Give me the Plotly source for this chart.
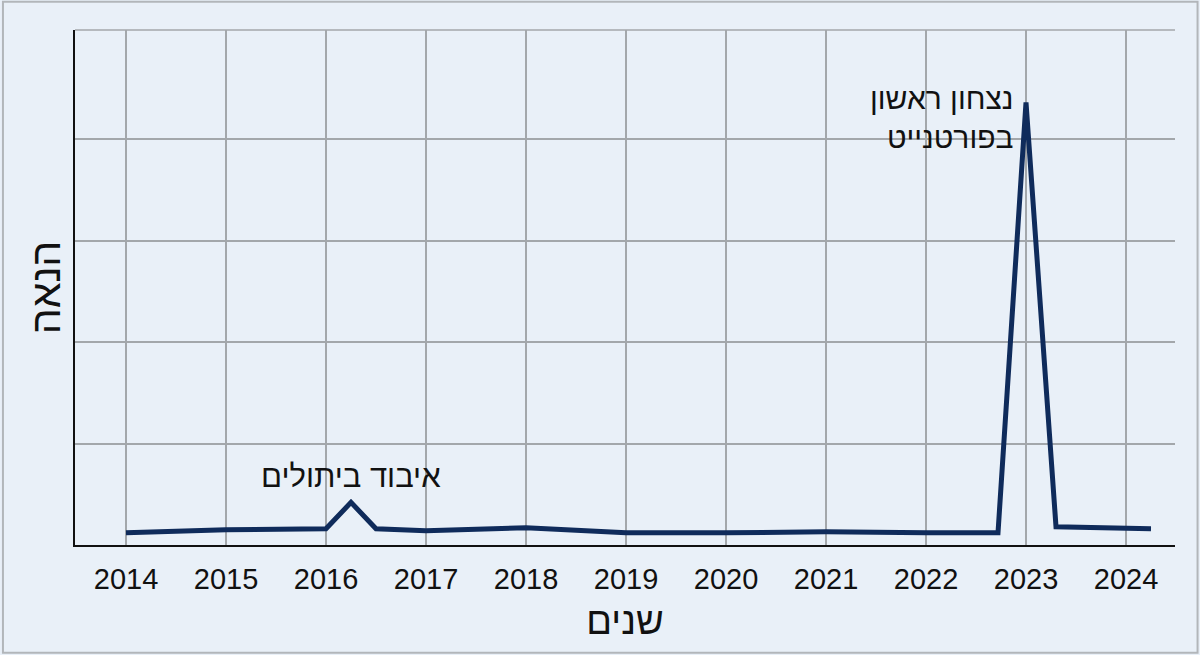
import plotly.graph_objects as go

years = [2014, 2015, 2016, 2016.25, 2016.5, 2017, 2018, 2019, 2020, 2021, 2022, 2022.72, 2023, 2023.3, 2024.25]
enjoyment = [0.12, 0.15, 0.16, 0.42, 0.16, 0.14, 0.17, 0.12, 0.12, 0.13, 0.12, 0.12, 4.36, 0.18, 0.16]
tick_years = list(range(2014, 2025))
tick_labels = [str(y) for y in tick_years]
y_grid = [0, 1, 2, 3, 4]

title_x = "שנים"
title_y = "הנאה"
note_loss = "איבוד ביתולים"
note_win = "נצחון ראשון<br>בפורטנייט"

LINE = "#0f2b5b"
GRID = "#a3a7ab"
BG = "#e9f0f8"
FONT = "Liberation Sans, Arial, DejaVu Sans, sans-serif"

fig = go.Figure()
fig.add_trace(go.Scatter(
    x=years, y=enjoyment, mode="lines",
    line=dict(color=LINE, width=5, shape="linear"),
    hoverinfo="skip", showlegend=False,
))

fig.add_annotation(x=years[3], y=enjoyment[3], text=note_loss, showarrow=False,
                   xanchor="center", yanchor="bottom", yshift=6,
                   font=dict(family=FONT, size=31, color="#111111"))
fig.add_annotation(x=years[12], y=enjoyment[12], text=note_win, showarrow=False,
                   xanchor="right", yanchor="middle", xshift=-12, yshift=-16,
                   align="right", borderpad=0,
                   font=dict(family=FONT, size=30, color="#111111"))

fig.update_layout(
    width=1200, height=655,
    margin=dict(l=75, r=25, t=30, b=110),
    paper_bgcolor=BG, plot_bgcolor=BG,
    font=dict(family=FONT, color="#111111"),
    xaxis=dict(
        range=[2013.49, 2024.49],
        tickmode="array", tickvals=tick_years, ticktext=tick_labels,
        tickfont=dict(size=29, color="#111111"),
        ticks="outside", ticklen=7, tickcolor="rgba(0,0,0,0)",
        showgrid=True, gridcolor=GRID, gridwidth=1.5,
        showline=True, linecolor="#111111", linewidth=2,
        zeroline=False,
        title=dict(text=title_x, font=dict(size=38, color="#111111"), standoff=14),
    ),
    yaxis=dict(
        range=[0, 5.074], tickmode="array", tickvals=y_grid,
        showticklabels=False,
        showgrid=True, gridcolor=GRID, gridwidth=1.5,
        showline=True, linecolor="#111111", linewidth=2,
        zeroline=False,
        title=dict(text=title_y, font=dict(size=41, color="#111111"), standoff=0),
    ),
    shapes=[
        dict(type="line", xref="paper", yref="paper", x0=0, x1=1, y0=1, y1=1,
             line=dict(color=GRID, width=1.5), layer="below"),
        dict(type="rect", xref="paper", yref="paper",
             x0=-0.0655, x1=1.0205, y0=-0.209, y1=1.055,
             line=dict(color="#b2b6ba", width=2), fillcolor="rgba(0,0,0,0)"),
    ],
)

fig.write_html("out.html")
